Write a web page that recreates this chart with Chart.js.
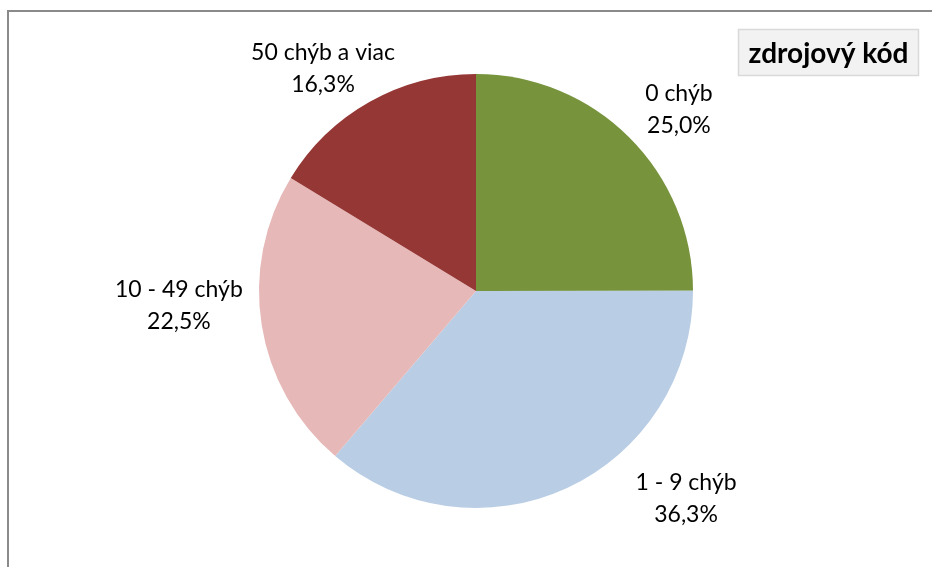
<!DOCTYPE html>
<html>
<head>
<meta charset="utf-8">
<script src="https://cdn.jsdelivr.net/npm/chart.js@4.4.0/dist/chart.umd.min.js"></script>
<style>
  html, body { margin: 0; padding: 0; background: #ffffff; }
  #wrap { position: relative; width: 932px; height: 567px; overflow: hidden; }
  #frame { position: absolute; left: 7px; top: 10px; width: 1000px; height: 700px;
           border-left: 2px solid #8a8a8a; border-top: 2px solid #8a8a8a; box-sizing: border-box; }
  canvas { position: absolute; left: 0; top: 0; }
</style>
</head>
<body>
<div id="wrap">
  <div id="frame"></div>
  <canvas id="c" width="932" height="567"></canvas>
</div>
<script>
const chartTitle = "zdrojový kód";
const categories = ["0 chýb", "1 - 9 chýb", "10 - 49 chýb", "50 chýb a viac"];
const values = [25.0, 36.3, 22.5, 16.3];
const sliceColors = ["#77933C", "#B9CDE5", "#E6B9B8", "#953735"];
// label anchor offsets relative to pie center, in units of radius (layout only)
const labelOffsets = [[0.935, -0.841], [0.968, 0.954], [-1.369, 0.065], [-0.705, -1.030]];

const FONT = "Lato, 'Noto Sans', sans-serif";

const labelPlugin = {
  id: 'pieLabels',
  afterDraw(chart) {
    const ctx = chart.ctx;
    const meta = chart.getDatasetMeta(0);
    ctx.save();
    ctx.fillStyle = '#000000';
    ctx.textAlign = 'center';
    ctx.textBaseline = 'alphabetic';
    const fs = 23;
    ctx.font = fs + 'px ' + FONT;
    meta.data.forEach((arc, i) => {
      const p = arc.getProps(['x', 'y', 'outerRadius'], true);
      const cx = p.x + labelOffsets[i][0] * p.outerRadius;
      const cy = p.y + labelOffsets[i][1] * p.outerRadius;
      const txt = values[i].toFixed(1).replace('.', ',') + '%';
      ctx.fillText(categories[i], cx, cy - 16 + 0.36 * fs);
      ctx.fillText(txt, cx, cy + 16 + 0.36 * fs);
    });
    // title box
    const bx = 738, by = 29, bw = 181, bh = 47;
    ctx.fillStyle = '#F2F2F2';
    ctx.fillRect(bx, by, bw, bh);
    ctx.strokeStyle = '#D9D9D9';
    ctx.lineWidth = 1.5;
    ctx.strokeRect(bx + 0.5, by + 0.5, bw - 1, bh - 1);
    ctx.fillStyle = '#000000';
    ctx.font = 'bold 28px ' + FONT;
    ctx.fillText(chartTitle, bx + bw / 2, 63);
    ctx.restore();
  }
};

new Chart(document.getElementById('c'), {
  type: 'pie',
  data: {
    labels: categories,
    datasets: [{
      data: values,
      backgroundColor: sliceColors,
      borderWidth: 0,
      hoverOffset: 0
    }]
  },
  options: {
    responsive: false,
    animation: false,
    events: [],
    layout: { padding: { top: 74, bottom: 59, left: 259, right: 239 } },
    plugins: {
      legend: { display: false },
      title: { display: false },
      tooltip: { enabled: false }
    }
  },
  plugins: [labelPlugin]
});
</script>
</body>
</html>
